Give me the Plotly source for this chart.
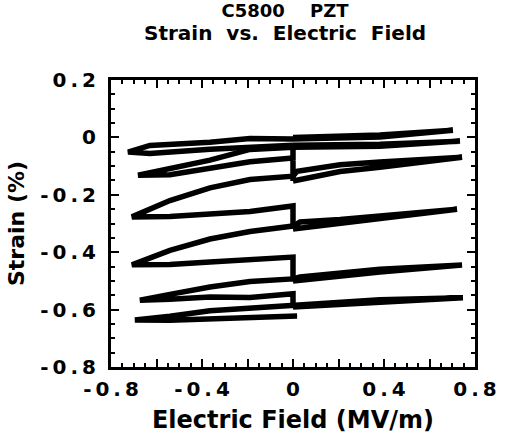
import plotly.graph_objects as go

# Electric field (MV/m) and strain (%) for successive cycles
field_1 = [0.0, 0.382, 0.703, 0.382, 0.0, -0.189, -0.365, -0.629, -0.725, -0.629, -0.365, -0.189, 0.0]
strain_1 = [0.0, 0.008, 0.025, 0.001, -0.006, -0.004, -0.0165, -0.028, -0.051, -0.056, -0.041, -0.036, -0.027]

field_2 = [0.0, 0.382, 0.734, 0.382, 0.0, -0.189, -0.365, -0.541, -0.681, -0.541, -0.365, -0.189, 0.0, 0.0, 0.0]
strain_2 = [-0.027, -0.024, -0.013, -0.031, -0.034, -0.042, -0.079, -0.109, -0.132, -0.130, -0.107, -0.085, -0.072, -0.027, -0.152]

field_3 = [0.0, 0.207, 0.382, 0.743, 0.382, 0.207, 0.018, 0.0, -0.189, -0.365, -0.541, -0.708, -0.541, -0.365, -0.189, 0.0, 0.0]
strain_3 = [-0.152, -0.119, -0.104, -0.069, -0.086, -0.095, -0.118, -0.135, -0.147, -0.176, -0.220, -0.277, -0.276, -0.267, -0.258, -0.239, -0.319]

field_4 = [0.0, 0.207, 0.721, 0.207, 0.031, 0.0, -0.189, -0.365, -0.541, -0.708, -0.541, -0.365, -0.189, 0.0, 0.0]
strain_4 = [-0.319, -0.300, -0.250, -0.286, -0.295, -0.309, -0.328, -0.354, -0.394, -0.444, -0.443, -0.434, -0.425, -0.417, -0.496]

field_5 = [0.0, 0.382, 0.743, 0.382, 0.031, 0.0, -0.189, -0.365, -0.541, -0.673, -0.541, -0.365, -0.189, 0.0, 0.0]
strain_5 = [-0.500, -0.469, -0.445, -0.459, -0.486, -0.493, -0.502, -0.521, -0.547, -0.567, -0.564, -0.556, -0.558, -0.545, -0.591]

field_6 = [0.0, 0.382, 0.747, 0.382, 0.031, 0.0, -0.189, -0.365, -0.541, -0.695, -0.541, -0.365, -0.189, 0.018]
strain_6 = [-0.591, -0.573, -0.559, -0.566, -0.584, -0.584, -0.592, -0.604, -0.623, -0.636, -0.637, -0.632, -0.627, -0.622]

x_tick_vals = [-0.8, -0.6, -0.4, -0.2, 0.0, 0.2, 0.4, 0.6, 0.8]
x_tick_text = ["-\u20090\u2009.\u20098", "", "-\u20090\u2009.\u20094", "", "0", "", "0\u2009.\u20094", "", "0\u2009.\u20098"]
y_tick_vals = [0.2, 0.0, -0.2, -0.4, -0.6, -0.8]
y_tick_text = ["0\u2009.\u20092", "0", "-\u20090\u2009.\u20092", "-\u20090\u2009.\u20094", "-\u20090\u2009.\u20096", "-\u20090\u2009.\u20098"]

FONT = "DejaVu Sans"

fig = go.Figure()
for fx, sy in [(field_1, strain_1), (field_2, strain_2), (field_3, strain_3),
               (field_4, strain_4), (field_5, strain_5), (field_6, strain_6)]:
    fig.add_trace(go.Scatter(x=fx, y=sy, mode="lines",
                             line=dict(color="black", width=5.5),
                             showlegend=False, hoverinfo="skip"))

axis_common = dict(
    showgrid=False, zeroline=False, automargin=False,
    showline=True, linecolor="black", linewidth=3, mirror="ticks",
    ticks="inside", ticklen=8, tickwidth=2, tickcolor="black",
    tickfont=dict(family=FONT, size=20, color="black", weight="bold"),
    minor=dict(ticks="inside", ticklen=4, tickwidth=1.5, tickcolor="black", showgrid=False),
)

fig.update_xaxes(
    range=[-0.8, 0.8], tickmode="array", tickvals=x_tick_vals, ticktext=x_tick_text,
    minor_dtick=0.05, ticklabelstandoff=2,
    title=dict(text="<b>Electric Field (MV/m)</b>",
               font=dict(family=FONT, size=24, color="black"), standoff=14),
    **axis_common,
)
fig.update_yaxes(
    range=[-0.8, 0.2], tickmode="array", tickvals=y_tick_vals, ticktext=y_tick_text,
    minor_dtick=0.05, ticklabelstandoff=8,
    title=dict(text="<b>Strain (%)</b>",
               font=dict(family=FONT, size=22, color="black"), standoff=10),
    **axis_common,
)

fig.add_annotation(
    text=("<span style='font-size:18px'><b>C5800    PZT</b></span><br>"
          "<span style='font-size:20px'><b>Strain  vs.  Electric  Field</b></span>"),
    xref="paper", yref="paper",
    x=(285 - 111) / 364, y=(367 - 22) / 287, xanchor="center", yanchor="middle",
    align="center", showarrow=False, font=dict(family=FONT, size=17.5, color="black"))

fig.update_layout(
    width=505, height=434,
    margin=dict(l=111, r=30, t=80, b=67, pad=0),
    paper_bgcolor="white", plot_bgcolor="white",
)

fig.write_html("out.html")
